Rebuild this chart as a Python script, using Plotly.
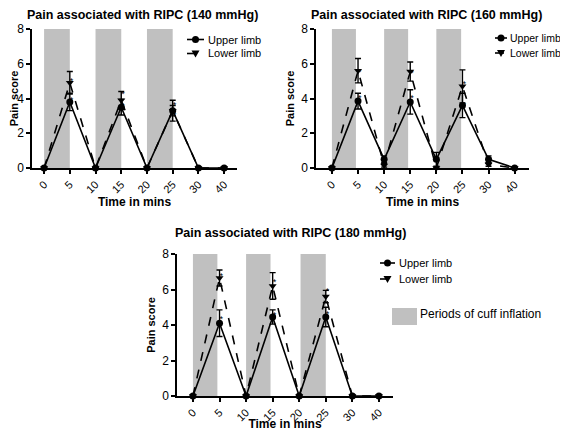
import plotly.graph_objects as go

times = ["0", "5", "10", "15", "20", "25", "30", "40"]

titles = ["Pain associated with RIPC (140 mmHg)",
          "Pain associated with RIPC (160 mmHg)",
          "Pain associated with RIPC (180 mmHg)"]

series_names = ["Upper limb", "Lower limb"]
key_label = "Periods of cuff inflation"

# 140 mmHg
upper_140 = [0, 3.8, 0, 3.5, 0, 3.3, 0, 0]
upper_140_err = [0, 0.5, 0, 0.45, 0, 0.6, 0, 0]
lower_140 = [0, 4.9, 0, 3.9, 0, 3.3, 0, 0]
lower_140_err = [0, 0.65, 0, 0.5, 0, 0.3, 0, 0]

# 160 mmHg
upper_160 = [0, 3.85, 0.5, 3.8, 0.5, 3.6, 0.5, 0]
upper_160_err = [0, 0.45, 0.2, 0.7, 0.4, 0.7, 0.2, 0]
lower_160 = [0, 5.6, 0.15, 5.55, 0, 4.7, 0.2, 0]
lower_160_err = [0, 0.7, 0.1, 0.55, 0, 0.95, 0.1, 0]

# 180 mmHg
upper_180 = [0, 4.1, 0, 4.45, 0, 4.45, 0, 0]
upper_180_err = [0, 0.75, 0, 0.4, 0, 0.55, 0, 0]
lower_180 = [0, 6.65, 0, 6.2, 0, 5.6, 0, 0]
lower_180_err = [0, 0.45, 0, 0.75, 0, 0.35, 0, 0]

# cuff inflation periods (start/end as category indices)
bands_140 = [(0, 1), (2, 3), (4, 5)]
bands_160 = [(0, 0.92), (2, 2.92), (4, 4.95)]
bands_180 = [(0, 0.92), (2, 2.92), (4.05, 5)]

# significance markers: (category index, level)
stars_140 = [(1, 4.95), (1, 3.85), (3, 4.2), (3, 3.55), (5, 3.6), (5, 3.0)]
stars_160 = [(1, 5.5), (1, 4.0), (3, 5.4), (3, 4.0), (5, 4.8), (5, 3.6)]
stars_180 = [(1, 6.7), (1, 4.3), (3, 6.4), (3, 4.5), (5, 5.9), (5, 4.6)]

FONT = "Liberation Sans, Arial, Helvetica, sans-serif"
BAND = "#c0c0c0"
# the page body adds an 8px margin; the figure is sized and laid out to fit the window
OFF = 8
FW, FH = 568 - OFF, 431 - OFF

panels = [
    dict(up=upper_140, upe=upper_140_err, lo=lower_140, loe=lower_140_err,
         bands=bands_140, stars=stars_140, px=(32, 237), py=(29, 168), xr=(-0.47, 7.5),
         title_xy=(142.5, 15.5),
         key=dict(sx=(187, 204), tx=207, rows=(39.5, 53.5), fs=11), ax=""),
    dict(up=upper_160, upe=upper_160_err, lo=lower_160, loe=lower_160_err,
         bands=bands_160, stars=stars_160, px=(316, 529), py=(29, 168), xr=(-0.61, 7.55),
         title_xy=(426.5, 15.5),
         key=dict(sx=(495, 507), tx=509, rows=(38, 53), fs=10.5), ax="2"),
    dict(up=upper_180, upe=upper_180_err, lo=lower_180, loe=lower_180_err,
         bands=bands_180, stars=stars_180, px=(177, 393), py=(254, 396), xr=(-0.6, 7.53),
         title_xy=(290, 233),
         key=dict(sx=(380, 395), tx=398, rows=(263, 279), fs=11), ax="3"),
]

fig = go.Figure()
shapes = []
annotations = []
layout = {}


def px_x(v):
    return (v - OFF) / FW


def px_y(v):
    return 1 - (v - OFF) / FH


for i, p in enumerate(panels):
    ax = p["ax"]
    xa = "x" + ax
    ya = "y" + ax
    fig.add_trace(go.Scatter(
        x=times, y=p["up"], xaxis=xa, yaxis=ya, name=series_names[0], showlegend=False,
        mode="lines+markers", cliponaxis=False,
        line=dict(color="black", width=1.6),
        marker=dict(symbol="circle", size=7, color="black"),
        error_y=dict(type="data", array=p["upe"], color="black", thickness=1.4, width=3),
    ))
    fig.add_trace(go.Scatter(
        x=times, y=p["lo"], xaxis=xa, yaxis=ya, name=series_names[1], showlegend=False,
        mode="lines+markers", cliponaxis=False,
        line=dict(color="black", width=1.6, dash="dash"),
        marker=dict(symbol="triangle-down", size=7, color="black"),
        error_y=dict(type="data", array=p["loe"], color="black", thickness=1.4, width=3),
    ))
    fig.add_trace(go.Scatter(
        x=[times[s[0]] for s in p["stars"]], y=[s[1] for s in p["stars"]],
        xaxis=xa, yaxis=ya, mode="text", text=["*"] * len(p["stars"]),
        textposition="middle right", textfont=dict(size=9, color="black", family=FONT),
        showlegend=False, cliponaxis=False, hoverinfo="skip",
    ))
    for (b0, b1) in p["bands"]:
        shapes.append(dict(type="rect", xref=xa, yref=ya, x0=b0, x1=b1, y0=0, y1=8,
                           fillcolor=BAND, line=dict(width=0), layer="below"))
    x0, x1 = p["px"]
    y0, y1 = p["py"]
    layout["xaxis" + ax] = dict(
        domain=[px_x(x0), px_x(x1)], anchor=ya, type="category", categoryorder="array",
        categoryarray=times, range=list(p["xr"]), showline=True, linecolor="black",
        linewidth=1.5, ticks="outside", ticklen=4, tickwidth=1.5, tickcolor="black",
        tickangle=-45, tickfont=dict(size=11, family=FONT, color="black"),
        showgrid=False, zeroline=False, automargin=False,
        title=dict(text="<b>Time in mins</b>", font=dict(size=12, family=FONT, color="black"),
                   standoff=0),
    )
    layout["yaxis" + ax] = dict(
        domain=[px_y(y1), px_y(y0)], anchor=xa, range=[0, 8], tickvals=[0, 2, 4, 6, 8],
        showline=True, linecolor="black", linewidth=1.5, ticks="outside", ticklen=4,
        tickwidth=1.5, tickcolor="black", tickfont=dict(size=12, family=FONT, color="black"),
        showgrid=False, zeroline=False, automargin=False,
        title=dict(text="<b>Pain score</b>", font=dict(size=11, family=FONT, color="black"),
                   standoff=4),
    )
    tx, ty = p["title_xy"]
    annotations.append(dict(
        text="<b>" + titles[i] + "</b>", xref="paper", yref="paper",
        x=px_x(tx), y=px_y(ty), xanchor="center", yanchor="middle", showarrow=False,
        font=dict(size=12.5, family=FONT, color="black"),
    ))
    # series key
    k = p["key"]
    sx0, sx1 = k["sx"]
    cx = (sx0 + sx1) / 2
    for j, ry in enumerate(k["rows"]):
        shapes.append(dict(type="line", xref="paper", yref="paper",
                           x0=px_x(sx0), x1=px_x(sx1), y0=px_y(ry), y1=px_y(ry),
                           line=dict(color="black", width=1.6,
                                     dash="solid" if j == 0 else "dash")))
        if j == 0:
            shapes.append(dict(type="circle", xref="paper", yref="paper",
                               xsizemode="pixel", ysizemode="pixel",
                               xanchor=px_x(cx), yanchor=px_y(ry),
                               x0=-3.5, x1=3.5, y0=-3.5, y1=3.5,
                               fillcolor="black", line=dict(width=0)))
        else:
            shapes.append(dict(type="path", xref="paper", yref="paper",
                               xsizemode="pixel", ysizemode="pixel",
                               xanchor=px_x(cx), yanchor=px_y(ry),
                               path="M -4 3 L 4 3 L 0 -4 Z",
                               fillcolor="black", line=dict(width=0)))
        annotations.append(dict(text=series_names[j], xref="paper", yref="paper",
                                x=px_x(k["tx"]), y=px_y(ry), xanchor="left", yanchor="middle",
                                showarrow=False, borderpad=0,
                                font=dict(size=k["fs"], family=FONT, color="black")))

# periods of cuff inflation key
shapes.append(dict(type="rect", xref="paper", yref="paper", x0=px_x(392), x1=px_x(417),
                   y0=px_y(325), y1=px_y(308), fillcolor=BAND, line=dict(width=0)))
annotations.append(dict(text=key_label, xref="paper", yref="paper",
                        x=px_x(418), y=px_y(314), xanchor="left", yanchor="middle",
                        showarrow=False, font=dict(size=12, family=FONT, color="black")))

fig.update_layout(
    width=FW, height=FH, margin=dict(l=0, r=0, t=0, b=0, autoexpand=False),
    paper_bgcolor="white", plot_bgcolor="white", showlegend=False,
    shapes=shapes, annotations=annotations, **layout,
)

fig.write_html("out.html")
